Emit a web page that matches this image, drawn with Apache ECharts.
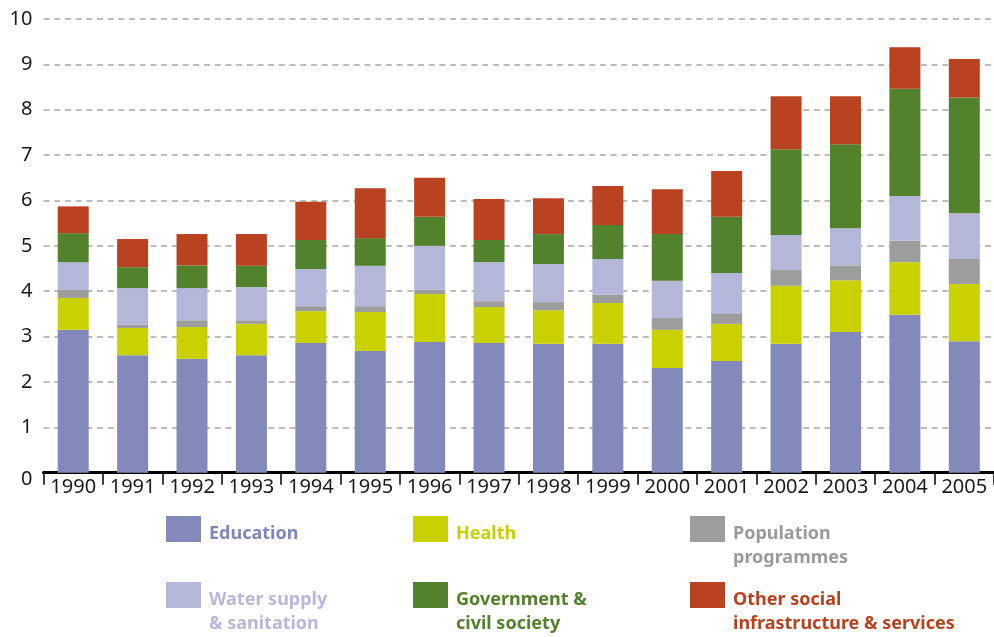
<!DOCTYPE html>
<html>
<head>
<meta charset="utf-8">
<script src="https://cdn.jsdelivr.net/npm/echarts@6/dist/echarts.min.js"></script>
<style>
  html, body { margin: 0; padding: 0; background: #fff; }
  #chart { width: 994px; height: 637px; }
</style>
</head>
<body>
<div id="chart"></div>
<script>
// years on the x axis
var years = ['1990', '1991', '1992', '1993', '1994', '1995', '1996', '1997',
             '1998', '1999', '2000', '2001', '2002', '2003', '2004', '2005'];

// stacked values, bottom to top
var education  = [3.15, 2.59, 2.51, 2.59, 2.86, 2.68, 2.88, 2.86, 2.84, 2.84, 2.31, 2.46, 2.84, 3.10, 3.48, 2.90];
var health     = [0.70, 0.60, 0.70, 0.69, 0.70, 0.86, 1.06, 0.79, 0.74, 0.90, 0.84, 0.82, 1.28, 1.14, 1.16, 1.26];
var population = [0.18, 0.07, 0.15, 0.08, 0.11, 0.13, 0.09, 0.13, 0.18, 0.18, 0.26, 0.22, 0.35, 0.33, 0.47, 0.55];
var water      = [0.61, 0.81, 0.71, 0.73, 0.82, 0.89, 0.97, 0.86, 0.84, 0.79, 0.82, 0.90, 0.77, 0.82, 0.99, 1.01];
var government = [0.64, 0.46, 0.50, 0.47, 0.64, 0.61, 0.64, 0.49, 0.66, 0.75, 1.03, 1.24, 1.89, 1.85, 2.36, 2.55];
var other      = [0.59, 0.62, 0.69, 0.70, 0.84, 1.10, 0.86, 0.90, 0.79, 0.86, 0.99, 1.01, 1.17, 1.06, 0.92, 0.85];

var yTicks = [0, 10, 1]; // min, max, step

var names = ['Education', 'Health', 'Population\nprogrammes', 'Water supply\n& sanitation',
             'Government &\ncivil society', 'Other social\ninfrastructure & services'];
var colors = ['#838abb', '#c9d200', '#9d9d9d', '#b4b7d8', '#53822d', '#b94220'];
var textColors = ['#7f87bd', '#c6d200', '#9a9a9a', '#b5b8da', '#52812c', '#b8421f'];
var values = [education, health, population, water, government, other];

var chart = echarts.init(document.getElementById('chart'));

var series = [];
for (var i = 0; i < names.length; i++) {
  series.push({
    name: names[i],
    type: 'bar',
    stack: 'total',
    barWidth: 31,
    data: values[i],
    itemStyle: { color: colors[i] },
    emphasis: { disabled: true }
  });
}

// one legend per item so each can be placed like the original grid.
// an empty spacer line on top pushes the text down next to the square
var legendPos = [
  { left: 166, top: 516 }, { left: 413, top: 516 }, { left: 690, top: 516 },
  { left: 166, top: 582 }, { left: 413, top: 582 }, { left: 690, top: 582 }
];
var legends = [];
for (var k = 0; k < names.length; k++) {
  var lines = names[k].split('\n');
  var spacer = lines.length > 1 ? 34 : 10;
  var blockH = spacer + lines.length * 24;
  var bboxTop = 13 - blockH / 2; // text is centred on the square's middle
  legends.push({
    data: [names[k]],
    left: legendPos[k].left,
    top: legendPos[k].top + Math.min(0, bboxTop),
    padding: 0,
    itemWidth: 35,
    itemHeight: 26,
    icon: 'rect',
    selectedMode: false,
    formatter: (function (ls, sp) {
      return function () { return '{s| }\n{a|' + ls.join('}\n{a|') + '}'; };
    })(lines, spacer),
    textStyle: {
      padding: [0, 0, 0, 3],
      rich: {
        s: { height: spacer, lineHeight: spacer, fontSize: 1 },
        a: {
          color: textColors[k],
          fontFamily: 'Noto Sans',
          fontWeight: 'bold',
          fontSize: 18,
          lineHeight: 24
        }
      }
    }
  });
}

var option = {
  animation: false,
  backgroundColor: '#fff',
  color: colors,
  legend: legends,
  grid: {
    left: 43.5,
    right: -7.5,
    top: 19,
    bottom: 164.3,
    containLabel: false
  },
  xAxis: {
    type: 'category',
    data: years,
    axisLine: { lineStyle: { color: '#000', width: 3 } },
    axisTick: { show: true, length: 12, lineStyle: { color: '#000', width: 1.5 } },
    axisLabel: {
      interval: 0,
      color: '#1a1a1a',
      fontSize: 20,
      fontFamily: 'Noto Sans',
      margin: 5
    }
  },
  yAxis: {
    type: 'value',
    min: yTicks[0],
    max: yTicks[1],
    interval: yTicks[2],
    axisLine: { show: false },
    axisTick: { show: false },
    axisLabel: {
      color: '#1a1a1a',
      fontSize: 20,
      fontFamily: 'Noto Sans',
      margin: 11,
      // the zero sits a little below the axis line in the original
      formatter: function (v) { return v === 0 ? '{z|0}' : String(v); },
      rich: {
        z: { color: '#1a1a1a', fontSize: 20, fontFamily: 'Noto Sans', padding: [14, 0, 0, 0] }
      }
    },
    splitLine: {
      lineStyle: { color: '#bcbcbc', width: 2, type: [6, 4.7] }
    }
  },
  series: series
};

chart.setOption(option);
</script>
</body>
</html>
